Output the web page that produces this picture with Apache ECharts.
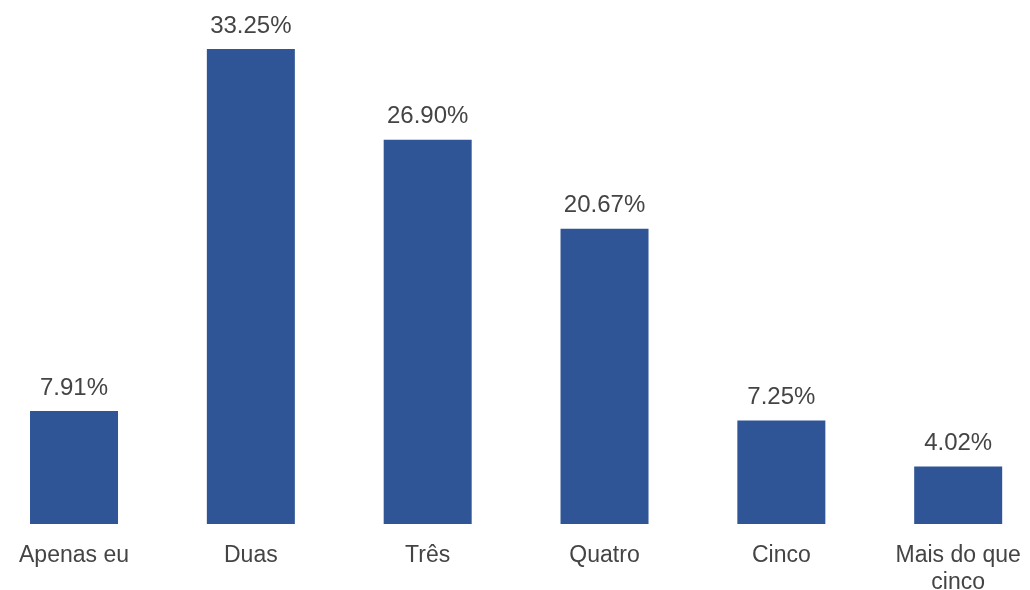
<!DOCTYPE html>
<html>
<head>
<meta charset="utf-8">
<script src="https://cdn.jsdelivr.net/npm/echarts@6/dist/echarts.min.js"></script>
<style>
html,body{margin:0;padding:0;background:#fff;}
#chart{width:1030px;height:590px;}
</style>
</head>
<body>
<div id="chart"></div>
<script>
const categories = ['Apenas eu', 'Duas', 'Três', 'Quatro', 'Cinco', 'Mais do que\ncinco'];
const values = [7.91, 33.25, 26.90, 20.67, 7.25, 4.02];

const chart = echarts.init(document.getElementById('chart'));
chart.setOption({
  backgroundColor: '#ffffff',
  animation: false,
  grid: { left: -14.4, top: 24, width: 1061, height: 500, containLabel: false, outerBoundsMode: 'none' },
  xAxis: {
    type: 'category',
    data: categories,
    axisLine: { show: false },
    axisTick: { show: false },
    axisLabel: {
      color: '#444444',
      fontFamily: 'Liberation Sans, Arial, sans-serif',
      fontSize: 23,
      lineHeight: 27,
      margin: 18,
      interval: 0
    }
  },
  yAxis: {
    type: 'value',
    min: 0,
    max: 35,
    show: false,
    splitLine: { show: false }
  },
  series: [{
    type: 'bar',
    data: values,
    barWidth: 88,
    itemStyle: { color: '#2F5597' },
    label: {
      show: true,
      position: 'top',
      distance: 11,
      color: '#444444',
      fontFamily: 'Liberation Sans, Arial, sans-serif',
      fontSize: 24,
      formatter: p => p.value.toFixed(2) + '%'
    }
  }]
});
</script>
</body>
</html>
